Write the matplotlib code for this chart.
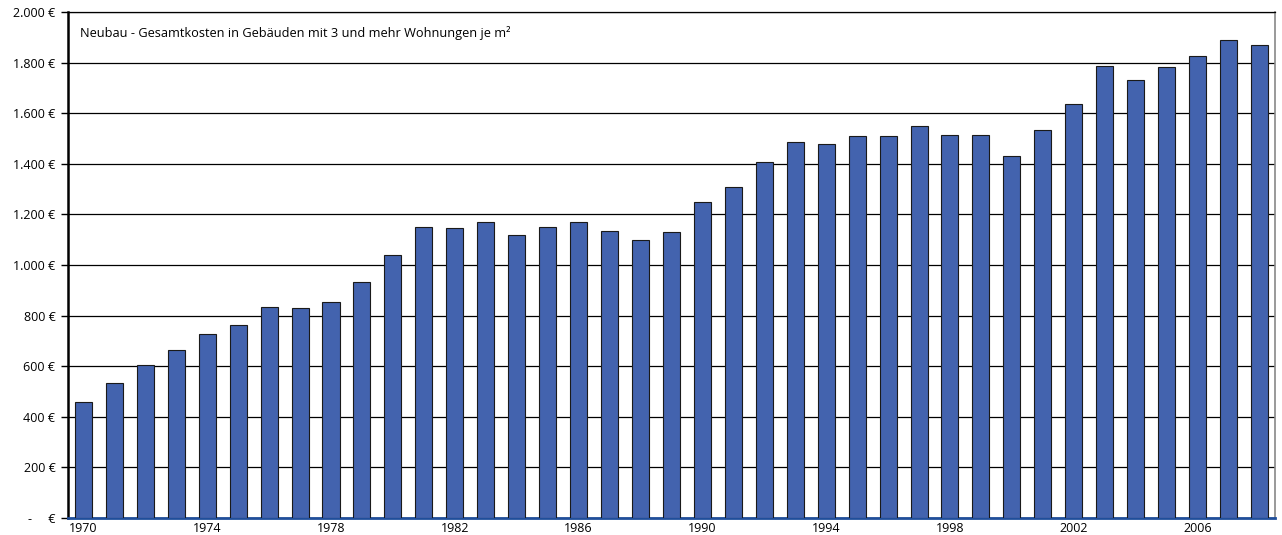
import matplotlib.pyplot as plt
from matplotlib.ticker import FuncFormatter

# Neubau - Gesamtkosten je m² (Euro)
years = list(range(1970, 2009))
costs = [458, 534, 605, 664, 727, 763, 834, 830, 854, 933,
         1040, 1152, 1146, 1170, 1119, 1150, 1170, 1134, 1099, 1130,
         1249, 1308, 1407, 1486, 1478, 1510, 1510, 1549, 1514, 1514,
         1431, 1534, 1636, 1787, 1731, 1783, 1826, 1889, 1870]
y_ticks = list(range(0, 2001, 200))
x_label_years = [1970, 1974, 1978, 1982, 1986, 1990, 1994, 1998, 2002, 2006]
title = "Neubau - Gesamtkosten in Gebäuden mit 3 und mehr Wohnungen je m²"

plt.rcParams['font.family'] = ['Open Sans', 'DejaVu Sans']

fig = plt.figure(figsize=(12.82, 5.35), dpi=100)
ax = fig.add_axes([0.053, 0.032, 0.9415, 0.9455])

ax.bar(years, costs, width=0.55, color='#4363AE', edgecolor='#1a1a1a', linewidth=0.8, zorder=3)

ax.set_xlim(years[0] - 0.5, years[-1] + 0.5)
ax.set_ylim(0, 2000)
ax.set_yticks(y_ticks)


def euro(v, pos):
    if v == 0:
        return '-     €'
    return f'{int(v):,} €'.replace(',', '.')


ax.yaxis.set_major_formatter(FuncFormatter(euro))
ax.set_xticks(x_label_years)
ax.tick_params(axis='x', length=0, labelsize=9, pad=3)
ax.tick_params(axis='y', length=5, width=1, labelsize=9, pad=4, direction='out')
ax.grid(axis='y', color='black', linewidth=0.9, zorder=0)

ax.spines['left'].set_linewidth(1.8)
ax.spines['left'].set_color('black')
ax.spines['bottom'].set_color('#1f4e9a')
ax.spines['bottom'].set_linewidth(2)
ax.spines['right'].set_color('#888888')
ax.spines['right'].set_linewidth(1.2)
ax.spines['top'].set_color('black')
ax.spines['top'].set_linewidth(0.9)

ax.text(0.01, 0.958, title, transform=ax.transAxes, fontsize=9.2, va='center', ha='left')

fig.savefig('out.png', dpi=100)
